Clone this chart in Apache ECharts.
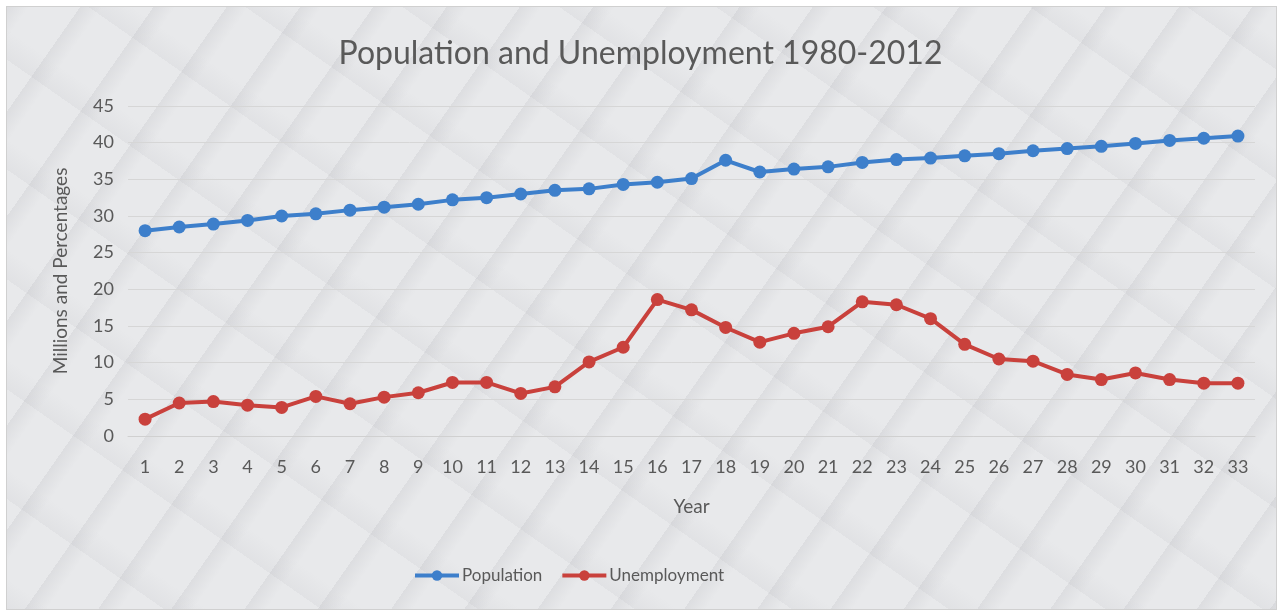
<!DOCTYPE html>
<html>
<head>
<meta charset="utf-8">
<script src="https://cdn.jsdelivr.net/npm/echarts@6/dist/echarts.min.js"></script>
<style>
  html, body { margin: 0; padding: 0; background: #ffffff; }
  #wrap {
    position: absolute; left: 6px; top: 6px; width: 1269px; height: 602px;
    border: 1px solid #d0d0d0;
    background:
      repeating-linear-gradient(125deg, rgba(120,120,130,0.10) 0px, rgba(255,255,255,0) 18px, rgba(255,255,255,0) 60px),
      repeating-linear-gradient(35deg, rgba(140,140,150,0.08) 0px, rgba(255,255,255,0) 25px, rgba(255,255,255,0) 90px),
      #e8e9eb;
  }
  #chart { position: absolute; left: -7px; top: -7px; width: 1281px; height: 613px; }
</style>
</head>
<body>
<div id="wrap"><div id="chart"></div></div>
<script>
  // 数据
  var years = [];
  for (var i = 1; i <= 33; i++) years.push(String(i));
  var population = [28.0, 28.5, 28.9, 29.4, 30.0, 30.3, 30.8, 31.2, 31.6, 32.2, 32.5,
    33.0, 33.5, 33.7, 34.3, 34.6, 35.1, 37.6, 36.0, 36.4, 36.7, 37.3, 37.7,
    37.9, 38.2, 38.5, 38.9, 39.2, 39.5, 39.9, 40.3, 40.6, 40.9];
  var unemployment = [2.3, 4.5, 4.7, 4.2, 3.9, 5.4, 4.4, 5.3, 5.9, 7.3, 7.3,
    5.8, 6.7, 10.1, 12.1, 18.6, 17.2, 14.8, 12.8, 14.0, 14.9, 18.3, 17.9,
    16.0, 12.5, 10.5, 10.2, 8.4, 7.7, 8.6, 7.7, 7.2, 7.2];

  var textColor = '#595959';
  var font = 'Lato';

  var chart = echarts.init(document.getElementById('chart'));
  chart.setOption({
    backgroundColor: 'transparent',
    textStyle: { fontFamily: font, color: textColor },
    title: {
      text: 'Population and Unemployment 1980-2012',
      left: 'center',
      top: 33,
      textStyle: { fontFamily: font, fontSize: 32, fontWeight: 'normal', color: textColor }
    },
    legend: {
      bottom: 24,
      left: 408,
      itemWidth: 44,
      itemHeight: 13,
      itemGap: 18,
      lineStyle: { width: 4 },
      textStyle: { fontFamily: font, fontSize: 17, color: textColor, padding: [0, 0, 0, -2] },
      data: ['Population', 'Unemployment']
    },
    grid: { left: 128, right: 26, top: 106, bottom: 177 },
    xAxis: {
      type: 'category',
      data: years,
      boundaryGap: true,
      name: 'Year',
      nameLocation: 'middle',
      nameGap: 61,
      nameTextStyle: { fontFamily: font, fontSize: 19, color: textColor },
      axisLine: { show: true, lineStyle: { color: '#d0d0d0' } },
      axisTick: { show: false },
      axisLabel: { fontFamily: font, fontSize: 18, color: textColor, margin: 22, interval: 0 }
    },
    yAxis: {
      type: 'value',
      min: 0,
      max: 45,
      interval: 5,
      name: 'Millions and Percentages',
      nameLocation: 'middle',
      nameGap: 58,
      nameTextStyle: { fontFamily: font, fontSize: 19, color: textColor },
      axisLine: { show: false },
      axisTick: { show: false },
      axisLabel: { fontFamily: font, fontSize: 18, color: textColor, margin: 14 },
      splitLine: { lineStyle: { color: '#d6d6d6', width: 1 } }
    },
    series: [{
      name: 'Population',
      type: 'line',
      data: population,
      symbol: 'circle',
      symbolSize: 13,
      lineStyle: { width: 4, color: '#3d7fcb' },
      itemStyle: { color: '#3d7fcb' }
    }, {
      name: 'Unemployment',
      type: 'line',
      data: unemployment,
      symbol: 'circle',
      symbolSize: 13,
      lineStyle: { width: 4, color: '#c9413c' },
      itemStyle: { color: '#c9413c' }
    }]
  });
</script>
</body>
</html>
